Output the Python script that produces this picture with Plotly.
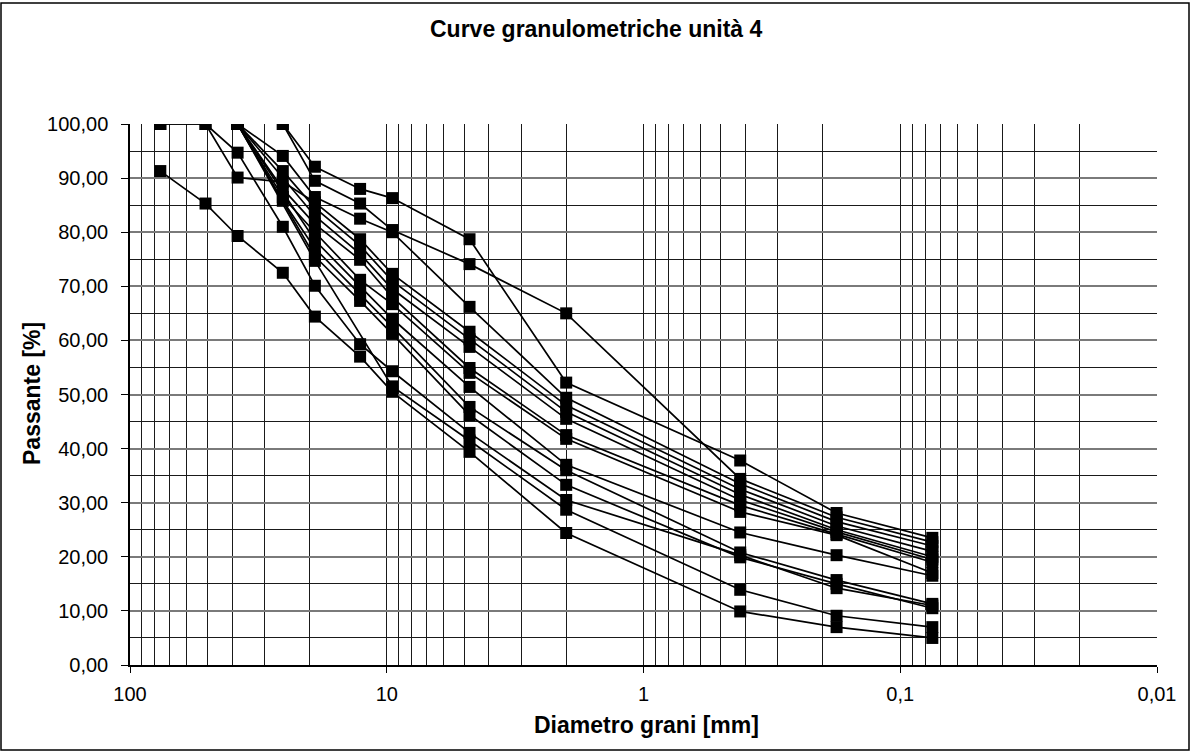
import plotly.graph_objects as go

# Sieve openings [mm] (ASTM series, 3" down to #200)
sieves = [76.2, 50.8, 38.1, 25.4, 19.05, 12.7, 9.52, 4.76, 2.0, 0.42, 0.177, 0.075]

# Percent passing for each sample (None = sieve not used)
c01 = [None, None, None, 100.0, 92.1, 88.0, 86.3, 78.7, 52.2, 37.8, 28.1, 23.5]
c02 = [None, None, None, 100.0, 89.5, 85.3, 80.4, 74.1, 65.0, 34.4, 27.3, 22.7]
c03 = [None, None, 100.0, 94.1, 86.5, 82.5, 80.0, 66.2, 49.4, 33.5, 26.5, 22.0]
c04 = [100.0, 100.0, 90.1, 89.3, 85.5, 78.7, 72.3, 61.6, 48.0, 32.5, 25.7, 21.0]
c05 = [None, None, 100.0, 91.3, 84.5, 77.5, 71.0, 60.2, 46.8, 31.5, 25.0, 20.0]
c06 = [None, None, 100.0, None, 83.0, 76.0, 69.5, 58.8, 45.5, 30.5, 24.6, 19.5]
c07 = [None, None, 100.0, 88.0, 81.5, 74.9, 68.0, 54.9, 42.5, 29.5, 24.2, 19.0]
c08 = [None, None, 100.0, 86.5, 80.0, 71.2, 66.7, 54.0, 41.8, 28.3, 24.0, 17.0]
c09 = [None, None, 100.0, None, 78.5, 70.0, 64.0, 51.4, 37.0, 24.5, 20.3, 16.5]
c10 = [None, None, 100.0, 85.8, 77.0, 68.5, 62.5, 47.7, 36.0, 20.8, 15.7, 11.3]
c11 = [None, None, 100.0, None, 75.5, 67.3, 61.2, 46.2, 33.3, 19.9, 15.0, 10.5]
c12 = [100.0, 100.0, 94.7, 81.0, 70.1, 59.3, 54.3, 42.9, 30.5, 20.3, 14.2, 11.0]
c13 = [None, None, 100.0, None, 74.7, None, 51.5, 41.5, 28.7, 13.9, 9.1, 7.0]
c14 = [91.3, 85.3, 79.3, 72.5, 64.4, 57.0, 50.5, 39.4, 24.4, 9.9, 7.0, 5.0]

samples = [c01, c02, c03, c04, c05, c06, c07, c08, c09, c10, c11, c12, c13, c14]

# Axis labels
x_major = [100, 10, 1, 0.1, 0.01]
x_major_text = ["100", "10", "1", "0,1", "0,01"]
x_minor = [m * d for d in (10, 1, 0.1, 0.01) for m in range(2, 10)]

title_text = "Curve granulometriche unità 4"
x_title = "Diametro grani [mm]"
y_title = "Passante [%]"

fig = go.Figure()
for vals in samples:
    fig.add_trace(go.Scatter(
        x=sieves, y=vals, mode="lines+markers", connectgaps=True,
        line=dict(color="black", width=1.7),
        marker=dict(symbol="square", size=12, color="black", line=dict(width=0)),
        showlegend=False, hoverinfo="x+y",
    ))

W, H = 1191, 753
ml, mr, mt, mb = 130, 34, 124, 88
pw, ph = W - ml - mr, H - mt - mb

font_family = "Liberation Sans, Arial, sans-serif"


def px_x(px):
    return (px - ml) / pw


def px_y(py):
    return (H - mb - py) / ph


fig.update_layout(
    width=W, height=H,
    margin=dict(l=ml, r=mr, t=mt, b=mb, pad=0),
    paper_bgcolor="white", plot_bgcolor="white",
    separators=",.",
    font=dict(family=font_family, size=20, color="black"),
    xaxis=dict(
        type="log", range=[2, -2], tickmode="array",
        tickvals=x_major, ticktext=x_major_text,
        ticks="outside", ticklen=6, tickcolor="black", tickwidth=1,
        ticklabelstandoff=4,
        showgrid=True, gridcolor="#1a1a1a", gridwidth=1,
        minor=dict(tickmode="array", tickvals=x_minor, showgrid=True,
                   gridcolor="#1a1a1a", gridwidth=1, ticks=""),
        showline=True, linecolor="black", linewidth=1.5,
        zeroline=False, tickfont=dict(size=20),
    ),
    yaxis=dict(
        range=[0, 100], dtick=10, tick0=0, tickformat=".2f",
        ticks="outside", ticklen=7, tickcolor="black", tickwidth=1,
        ticklabelstandoff=9,
        showgrid=True, gridcolor="#7a7a7a", gridwidth=2,
        minor=dict(dtick=5, showgrid=True, gridcolor="#1a1a1a", gridwidth=1, ticks=""),
        showline=True, linecolor="black", linewidth=1.5,
        zeroline=False, tickfont=dict(size=20),
    ),
    annotations=[
        dict(text="<b>%s</b>" % title_text, xref="paper", yref="paper",
             x=px_x(596), y=px_y(29), xanchor="center", yanchor="middle",
             showarrow=False, font=dict(size=23)),
        dict(text="<b>%s</b>" % x_title, xref="paper", yref="paper",
             x=px_x(646), y=px_y(725), xanchor="center", yanchor="middle",
             showarrow=False, font=dict(size=23)),
        dict(text="<b>%s</b>" % y_title, xref="paper", yref="paper",
             x=px_x(32), y=px_y(394), xanchor="center", yanchor="middle",
             textangle=-90, showarrow=False, font=dict(size=23)),
    ],
)

# Chart-area frame around the whole figure
fig.add_shape(
    type="rect", xref="paper", yref="paper",
    x0=px_x(1), x1=px_x(1189), y0=px_y(750), y1=px_y(3),
    line=dict(color="black", width=1.5), fillcolor="rgba(0,0,0,0)", layer="below",
)

fig.write_html("out.html")
